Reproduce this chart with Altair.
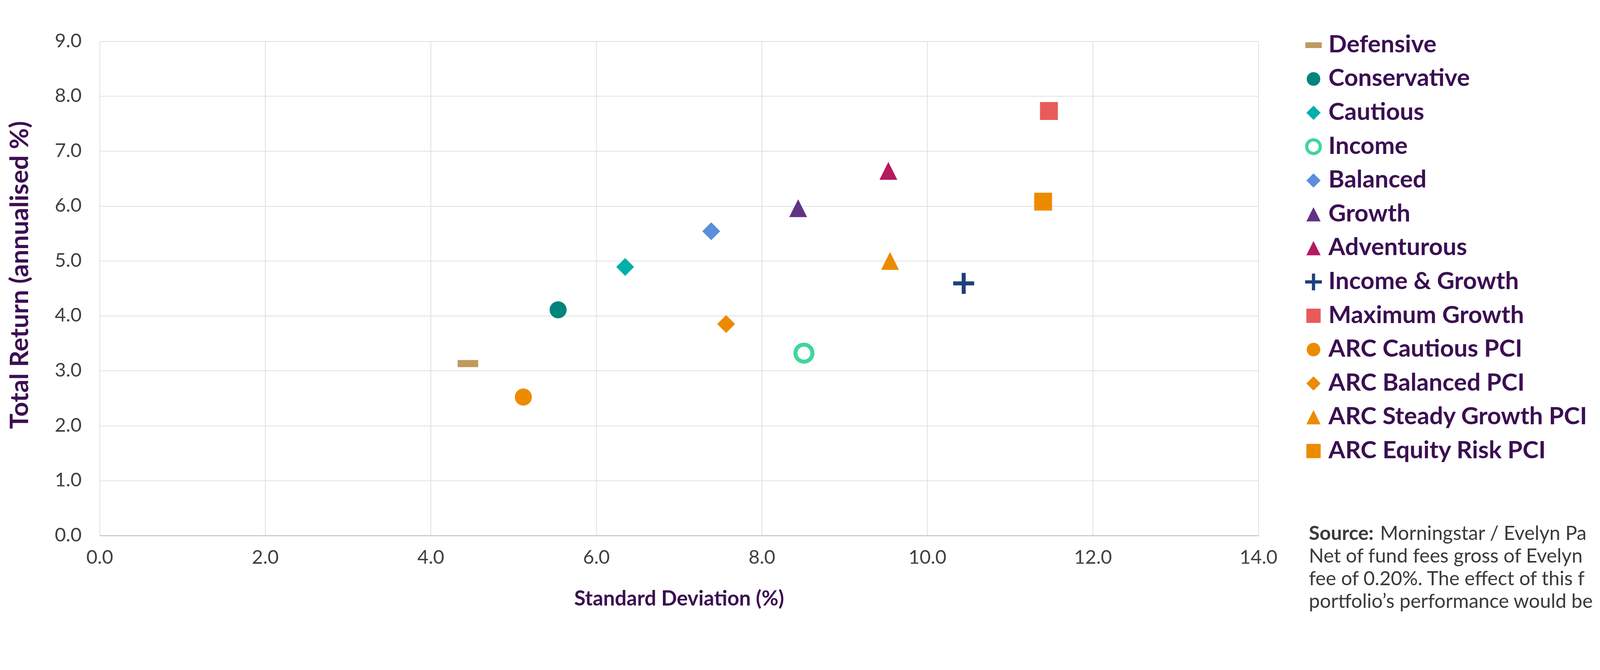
import altair as alt
import pandas as pd

# ---------------- data ----------------
names = ["Defensive", "Conservative", "Cautious", "Income", "Balanced", "Growth",
         "Adventurous", "Income & Growth", "Maximum Growth", "ARC Cautious PCI",
         "ARC Balanced PCI", "ARC Steady Growth PCI", "ARC Equity Risk PCI"]
std_dev = [4.45, 5.54, 6.35, 8.51, 7.39, 8.44, 9.53, 10.44, 11.47, 5.12, 7.57, 9.55, 11.40]
total_return = [3.13, 4.11, 4.89, 3.32, 5.54, 5.96, 6.64, 4.59, 7.73, 2.52, 3.85, 5.00, 6.08]
colors = ["#BF9A5E", "#00847C", "#00B0A8", "#3FD69A", "#5B8EDB", "#613386", "#B51A5F",
          "#1C4079", "#E85B5A", "#EC8B00", "#EC8B00", "#EC8B00", "#EC8B00"]

x_ticks = [0, 2, 4, 6, 8, 10, 12, 14]
y_ticks = [0, 1, 2, 3, 4, 5, 6, 7, 8, 9]

note_bold = "Source:"
note_first = "Morningstar / Evelyn Partners"
note_lines = ["Net of fund fees gross of Evelyn Partners",
              "fee of 0.20%. The effect of this fee",
              "portfolio\u2019s performance would be"]

# ---------------- symbol shapes ----------------
DASH = "M-0.98,-0.34L0.98,-0.34L0.98,0.34L-0.98,0.34Z"
CIRCLE = "M0.81,0A0.81,0.81,0,1,1,-0.81,0A0.81,0.81,0,1,1,0.81,0Z"
DIAMOND = "M0,-0.85L0.85,0L0,0.85L-0.85,0Z"
RING = ("M1,0A1,1,0,1,1,-1,0A1,1,0,1,1,1,0Z"
        "M0.62,0A0.62,0.62,0,1,0,-0.62,0A0.62,0.62,0,1,0,0.62,0Z")
TRIANGLE = "M0,-0.85L0.85,0.85L-0.85,0.85Z"
PLUS = ("M-0.19,-1L0.19,-1L0.19,-0.19L1,-0.19L1,0.19L0.19,0.19L0.19,1L-0.19,1"
        "L-0.19,0.19L-1,0.19L-1,-0.19L-0.19,-0.19Z")
SQUARE = "M-0.85,-0.85L0.85,-0.85L0.85,0.85L-0.85,0.85Z"
shapes = [DASH, CIRCLE, DIAMOND, RING, DIAMOND, TRIANGLE, TRIANGLE, PLUS, SQUARE,
          CIRCLE, DIAMOND, TRIANGLE, SQUARE]

df = pd.DataFrame({"name": names, "sd": std_dev, "ret": total_return})
notes_df = pd.DataFrame({"t": note_lines, "i": [1, 2, 3]})
bold_df = pd.DataFrame({"t": [note_bold]})
first_df = pd.DataFrame({"t": [note_first]})

FONT = "Lato"
PURPLE = "#3B0F52"
W, H = 3255, 1388

legend = alt.Legend(
    title=None, orient="none", legendX=3376, legendY=-23, padding=0,
    rowPadding=27, labelOffset=8, symbolSize=2228, symbolStrokeWidth=0,
    labelFont=FONT, labelFontWeight="bold", labelFontSize=68, labelColor=PURPLE,
    labelLimit=2000,
)

points = alt.Chart(df).mark_point(filled=True, size=3481, opacity=1, strokeWidth=0).encode(
    x=alt.X("sd:Q", scale=alt.Scale(domain=[0, 14], nice=False),
            axis=alt.Axis(title="Standard Deviation (%)", values=x_ticks, format=".1f",
                          grid=True, gridColor="#DDDDDD", gridWidth=2, labelFlush=False,
                          domain=True, domainColor="#C8C8C8", domainWidth=3,
                          ticks=False, labelPadding=36, labelFont=FONT, labelFontSize=54,
                          labelColor="#404040",
                          titleFont=FONT, titleFontSize=58, titleFontWeight="bold",
                          titleColor=PURPLE, titleY=179, titleBaseline="middle")),
    y=alt.Y("ret:Q", scale=alt.Scale(domain=[0, 9], nice=False),
            axis=alt.Axis(title="Total Return (annualised %)", values=y_ticks, format=".1f",
                          grid=True, gridColor="#DDDDDD", gridWidth=2, labelFlush=False,
                          domain=False, ticks=False, labelPadding=51,
                          labelFont=FONT, labelFontSize=54,
                          labelColor="#404040",
                          titleFont=FONT, titleFontSize=72, titleFontWeight="bold",
                          titleColor=PURPLE, titleX=-223, titleY=656,
                          titleBaseline="middle", titleAngle=270)),
    color=alt.Color("name:N", scale=alt.Scale(domain=names, range=colors), legend=legend,
                    sort=names),
    shape=alt.Shape("name:N", scale=alt.Scale(domain=names, range=shapes), legend=legend,
                    sort=names),
)

note_x = 3397
note_font = 55
line1_y = 1400
line_gap = 64

notes = alt.Chart(notes_df).mark_text(
    align="left", baseline="alphabetic", font=FONT, fontSize=note_font,
    color="#3A3A3A", limit=808, ellipsis=" ",
).encode(
    x=alt.value(note_x),
    y=alt.Y("i:Q", scale=alt.Scale(domain=[0, 3], range=[line1_y, line1_y + 3 * line_gap]),
            axis=None),
    text="t:N",
)

bold = alt.Chart(bold_df).mark_text(
    align="left", baseline="alphabetic", font=FONT, fontSize=note_font, fontWeight="bold",
    color="#3A3A3A",
).encode(x=alt.value(note_x), y=alt.value(line1_y), text="t:N")

first = alt.Chart(first_df).mark_text(
    align="left", baseline="alphabetic", font=FONT, fontSize=note_font,
    color="#3A3A3A", limit=608, ellipsis=" ",
).encode(x=alt.value(note_x + 200), y=alt.value(line1_y), text="t:N")

chart = alt.layer(points, notes, bold, first).resolve_scale(y="independent").properties(
    width=W, height=H,
    autosize=alt.AutoSizeParams(type="none"),
    padding={"left": 271, "top": 28, "right": 951, "bottom": 211},
    background="white",
).configure_view(strokeWidth=0, fill="white")

chart.save("out.html", embed_options={"renderer": "svg", "actions": False})
